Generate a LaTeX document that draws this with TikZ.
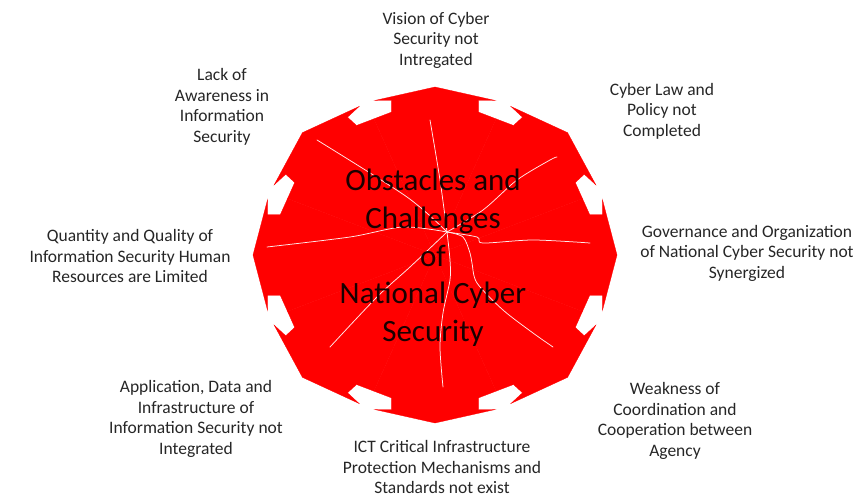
\documentclass[tikz,border=0pt]{standalone}
\usepackage{fontspec}
\setmainfont{Carlito}
\usetikzlibrary{calc}
\begin{document}
\begin{tikzpicture}[
  x=1pt,y=-1pt,
  label/.style={font=\fontsize{17.5}{20.5}\selectfont,text=black!85,align=center},
  title/.style={font=\fontsize{31}{37.7}\selectfont,text=black!90!red,align=center},
  crack/.style={draw=white!92!red,line width=0.75pt,line cap=round,line join=round},
  piece/.style={fill=red,draw=red,line width=0.3pt},
]
\useasboundingbox (0,0) rectangle (863,497);
% eight outward arrows round one body
\begin{scope}[shift={(435,255)},x=182pt,y=168pt]
\foreach \a/\t in {0/1,45/1.03,90/1,135/1.03,180/1,225/1.03,270/1,315/1.03}{
  \filldraw[piece] (0,0) -- (\a-22.5:0.8771)
    -- ($(\a:0.85)+(\a-90:0.24)$) -- ($(\a:0.92)+(\a-90:0.24)$)
    -- ($(\a:0.92)+(\a-90:0.33)$) -- (\a:\t)
    -- ($(\a:0.92)+(\a+90:0.33)$) -- ($(\a:0.92)+(\a+90:0.24)$)
    -- ($(\a:0.85)+(\a+90:0.24)$) -- (\a+22.5:0.8771) -- cycle;
}
\end{scope}
% cracks
\draw[crack] plot[smooth,tension=0.5] coordinates {(447,232) (407,197) (317,140)};
\draw[crack] plot[smooth,tension=0.5] coordinates {(447,232) (440,180) (430,120)};
\draw[crack] plot[smooth,tension=0.5] coordinates {(447,232) (483,210) (517,180) (550,160) (557,157)};
\draw[crack] plot[smooth,tension=0.5] coordinates {(447,232) (477,237) (483,243) (533,240) (590,243)};
\draw[crack] plot[smooth,tension=0.5] coordinates {(447,232) (463,237) (470,253) (472,263) (477,283) (503,310) (533,333) (553,347)};
\draw[crack] plot[smooth,tension=0.5] coordinates {(447,232) (450,260) (450,280) (443,313) (440,347) (443,387)};
\draw[crack] plot[smooth,tension=0.5] coordinates {(447,232) (410,267) (377,297) (330,347)};
\draw[crack] plot[smooth,tension=0.5] coordinates {(447,232) (403,227) (350,237) (267,247)};
\node[title] (obstacles) at (433,258)
  {Obstacles and\\Challenges\\of\\National Cyber\\Security};
\node[label] (vision) at (436,40) {Vision of Cyber\\Security not\\Intregated};
\node[label] (law) at (662,111) {Cyber Law and\\Policy not\\Completed};
\node[label] (governance) at (747,253) {Governance and Organization\\of National Cyber Security not\\Synergized};
\node[label] (coordination) at (675,421) {Weakness of\\Coordination and\\Cooperation between\\Agency};
\node[label] (ict) at (442,467) {ICT Critical Infrastructure\\Protection Mechanisms and\\Standards not exist};
\node[label] (application) at (196,419) {Application, Data and\\Infrastructure of\\Information Security not\\Integrated};
\node[label] (quantity) at (130,256) {Quantity and Quality of\\Information Security Human\\Resources are Limited};
\node[label] (awareness) at (222,107) {Lack of\\Awareness in\\Information\\Security};
\end{tikzpicture}
\end{document}
